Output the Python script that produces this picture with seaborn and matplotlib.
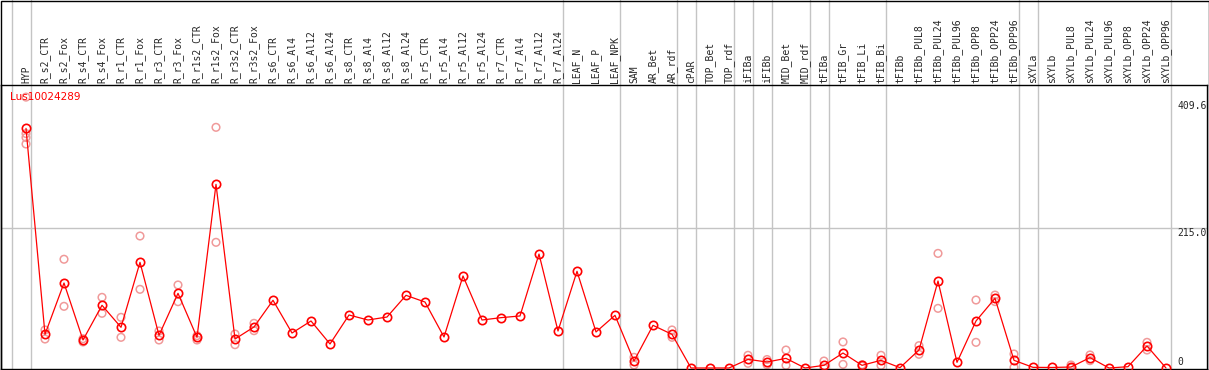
import matplotlib
matplotlib.use("Agg")
import matplotlib.pyplot as plt
import seaborn as sns
import pandas as pd
from matplotlib.patches import Rectangle

sns.set_style("white")
plt.rcParams['font.family'] = ['DejaVu Sans Mono', 'DejaVu Sans']

gene = "Lus10024289"

categories = [
    "HYP", "R_s2_CTR", "R_s2_Fox", "R_s4_CTR", "R_s4_Fox", "R_r1_CTR", "R_r1_Fox",
    "R_r3_CTR", "R_r3_Fox", "R_r1s2_CTR", "R_r1s2_Fox", "R_r3s2_CTR", "R_r3s2_Fox",
    "R_s6_CTR", "R_s6_Al4", "R_s6_Al12", "R_s6_Al24", "R_s8_CTR", "R_s8_Al4",
    "R_s8_Al12", "R_s8_Al24", "R_r5_CTR", "R_r5_Al4", "R_r5_Al12", "R_r5_Al24",
    "R_r7_CTR", "R_r7_Al4", "R_r7_Al12", "R_r7_Al24", "LEAF_N", "LEAF_P", "LEAF_NPK",
    "SAM", "AR_Bet", "AR_rdf", "cPAR", "TOP_Bet", "TOP_rdf", "iFIBa", "iFIBb",
    "MID_Bet", "MID_rdf", "tFIBa", "tFIB_Gr", "tFIB_Li", "tFIB_Bi", "tFIBb",
    "tFIBb_PUL8", "tFIBb_PUL24", "tFIBb_PUL96", "tFIBb_OPP8", "tFIBb_OPP24",
    "tFIBb_OPP96", "sXYLa", "sXYLb", "sXYLb_PUL8", "sXYLb_PUL24", "sXYLb_PUL96",
    "sXYLb_OPP8", "sXYLb_OPP24", "sXYLb_OPP96",
]

mean_values = [
    368, 51.7, 130.5, 43, 96.3, 62.5, 162.3,
    50.2, 114.7, 47.1, 282, 44.5, 63,
    104, 53.7, 72.2, 36.9, 81.4, 73.7,
    78.3, 111.6, 101.3, 47.6, 141.3, 73.7,
    77.3, 79.9, 175, 56.8, 148.5, 55.3, 80.9,
    10.7, 65.5, 51.7, 0, 0, 0, 13.3, 9.2,
    14.8, 0, 4.1, 23, 4.1, 11.8, 0.5,
    27.6, 133.6, 8.7, 72.2, 107,
    11.8, 1, 0.8, 1.5, 15.9, 0,
    2, 33.8, 0,
]

# individual replicates (only where they differ visibly from the mean)
rep_names = [
    "HYP", "HYP", "HYP", "HYP",
    "R_s2_CTR", "R_s2_CTR", "R_s2_Fox", "R_s2_Fox", "R_s4_CTR", "R_s4_CTR",
    "R_s4_Fox", "R_s4_Fox", "R_r1_CTR", "R_r1_CTR", "R_r1_Fox", "R_r1_Fox",
    "R_r3_CTR", "R_r3_CTR", "R_r3_Fox", "R_r3_Fox", "R_r1s2_CTR", "R_r1s2_CTR",
    "R_r1s2_Fox", "R_r1s2_Fox", "R_r3s2_CTR", "R_r3s2_CTR", "R_r3s2_Fox", "R_r3s2_Fox",
    "SAM", "SAM", "AR_rdf", "AR_rdf", "iFIBa", "iFIBa", "iFIBb", "iFIBb",
    "MID_Bet", "MID_Bet", "tFIBa", "tFIBa", "tFIB_Gr", "tFIB_Gr", "tFIB_Li", "tFIB_Li",
    "tFIB_Bi", "tFIB_Bi", "tFIBb_PUL8", "tFIBb_PUL8", "tFIBb_PUL24", "tFIBb_PUL24",
    "tFIBb_OPP8", "tFIBb_OPP8", "tFIBb_OPP24", "tFIBb_OPP24", "tFIBb_OPP96", "tFIBb_OPP96",
    "sXYLb_PUL8", "sXYLb_PUL8", "sXYLb_PUL24", "sXYLb_PUL24", "sXYLb_OPP24", "sXYLb_OPP24",
]
rep_values = [
    416, 360, 354, 344,
    58.4, 44.5, 167, 94.7, 45, 40,
    108.5, 84, 77.8, 47.1, 202.7, 120.8,
    56.8, 43, 127.5, 101.8, 49.6, 43,
    369.6, 193, 52.2, 35.8, 68.6, 57.3,
    16.4, 4.6, 58.4, 47.1, 19.5, 7.2, 13, 5,
    27.6, 4.1, 10.7, 0, 40, 5.6, 5, 3,
    19.5, 4, 34.3, 21, 176, 91.6,
    104.4, 39.4, 112, 102, 21.5, 1,
    4.6, 0, 20, 11.3, 39.4, 27.6,
]

# group separators sit just right of these category indices
sep_after = [-1, 0, 28, 31, 34, 35, 37, 38, 39, 41, 42, 45, 52, 53, 60]
yticks = [0, 215.0, 409.6]

pos = {c: i for i, c in enumerate(categories)}
means = pd.DataFrame({"x": range(len(categories)), "y": mean_values})
reps = pd.DataFrame({"x": [pos[n] for n in rep_names], "y": rep_values})

W, H = 1209, 370
fig = plt.figure(figsize=(W / 100, H / 100), dpi=100)
ax = fig.add_axes([1 / W, 1 / H, 1206 / W, 284 / H])

grey = "#c4c4c4"
for s in sep_after:
    ax.axvline(s + 0.25, ymin=0, ymax=369 / 284, color=grey, lw=1, clip_on=False, zorder=0)
ax.axhline(215.0, color=grey, lw=1, zorder=0)

sns.scatterplot(data=reps, x="x", y="y", ax=ax, marker="o", s=30,
                facecolor="none", edgecolor="#f09a9a", linewidth=1.1, zorder=2)
sns.lineplot(data=means, x="x", y="y", ax=ax, color="red", lw=0.9,
             marker="o", markersize=6, markerfacecolor="none",
             markeredgecolor="red", markeredgewidth=1.2, zorder=3)

ax.set_xlim(-25 / 19, 1181 / 19)
ax.set_ylim(-1.54, 434.6)
ax.set_xlabel("")
ax.set_ylabel("")
ax.set_yticks([])
ax.set_xticks(range(len(categories)))
ax.set_xticklabels(categories)
ax.xaxis.set_ticks_position("top")
ax.tick_params(axis="x", length=0, pad=1.5, labelsize=7, labelrotation=90)

for sp in ax.spines.values():
    sp.set_color("black")
    sp.set_linewidth(1)

tx = (1177 - 26) / 19
ax.text(tx, yticks[2], f"{yticks[2]:.1f}", fontsize=7, ha="left", va="top")
ax.text(tx, yticks[1], f"{yticks[1]:.1f}", fontsize=7, ha="left", va="top")
ax.text(tx, yticks[0] + 2, "0", fontsize=7, ha="left", va="bottom")

# gene name in the top-left corner of the plot area
ax.text(-16 / 19, 1 - 12 / 284, gene, color="red", fontsize=7.5,
        ha="left", va="center", transform=ax.get_xaxis_transform(), family="DejaVu Sans")

fig.add_artist(Rectangle((0.5 / W, 0.5 / H), 1 - 1 / W, 1 - 1 / H, transform=fig.transFigure,
                         fill=False, ec="black", lw=1))

fig.savefig("out.png", dpi=100)
